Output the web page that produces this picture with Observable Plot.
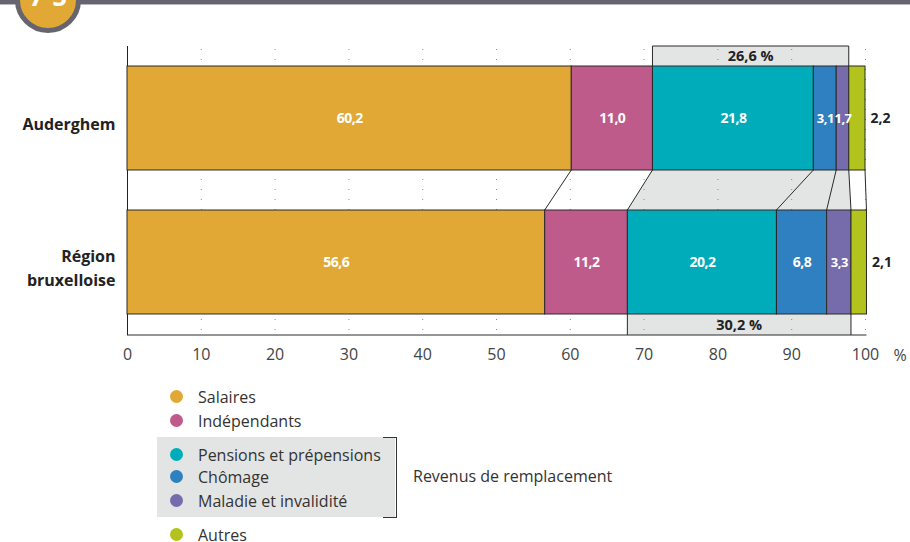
<!DOCTYPE html>
<html><head><meta charset="utf-8">
<script src="https://cdn.jsdelivr.net/npm/d3@7"></script>
<script src="https://cdn.jsdelivr.net/npm/@observablehq/plot@0.6"></script>
<style>
body{margin:0;background:#fff;font-family:"Open Sans",sans-serif;}
#wrap{position:relative;width:910px;height:542px;overflow:hidden;background:#fff;}
#topline{position:absolute;left:0;top:0;width:910px;height:4px;background:#66646f;border-bottom:1px solid #b9b8be;z-index:1;}
#badge{position:absolute;left:15px;top:-33px;width:66px;height:66px;box-sizing:border-box;border-radius:50%;background:#e2a836;border:5px solid #66646f;z-index:2;overflow:hidden;}
#badge span{position:absolute;left:0;width:100%;text-align:center;top:6px;font:bold 26px "Open Sans",sans-serif;color:#fff;}
#chart{position:absolute;left:0;top:0;}
.leg{position:absolute;left:0;height:22px;line-height:22px;font-size:16px;color:#333;}
.leg i{position:absolute;left:170px;top:4px;width:13px;height:13px;border-radius:50%;}
.leg span{position:absolute;left:198px;white-space:nowrap;}
#legbox{position:absolute;left:157px;top:437px;width:238px;height:80px;background:#e3e4e4;}
#bracket{position:absolute;left:383px;top:437px;width:13px;height:79px;border:1.3px solid #333;border-left:none;}
#repl{position:absolute;left:413px;top:465px;font-size:16px;color:#333;white-space:nowrap;}
</style></head><body>
<div id="wrap">
 <div id="topline"></div>
 <div id="badge"><span>7-5</span></div>
 <div id="chart"></div>
 <div id="legbox"></div>
 <div id="bracket"></div>
 <div id="repl">Revenus de remplacement</div>
</div>
<script>
const regions = ["Auderghem", "Région bruxelloise"];
const regionLabels = ["Auderghem", "Région\nbruxelloise"];
const categories = ["Salaires", "Indépendants", "Pensions et prépensions", "Chômage", "Maladie et invalidité", "Autres"];
const auderghemValues = [60.2, 11.0, 21.8, 3.1, 1.7, 2.2];
const bruxellesValues = [56.6, 11.2, 20.2, 6.8, 3.3, 2.1];
const colors = ["#e2a836", "#bf5b8a", "#00acb9", "#2f80c0", "#766cac", "#b2c31d"];
const replacementCats = ["Pensions et prépensions", "Chômage", "Maladie et invalidité"];
const replacementTotals = [26.6, 30.2];
const xTicks = [0, 10, 20, 30, 40, 50, 60, 70, 80, 90, 100];
const gridTicks = [10, 20, 30, 40, 50, 60, 70, 80, 90, 100];

const fmt = v => v.toFixed(1).replace(".", ",");
const valuesByRegion = [auderghemValues, bruxellesValues];
const data = [];
regions.forEach((r, i) => categories.forEach((c, j) => data.push({region: r, category: c, value: valuesByRegion[i][j]})));

const W = 910, H = 375;
const plot = Plot.plot({
  width: W, height: H,
  marginLeft: 127, marginRight: 45, marginTop: 46, marginBottom: 40,
  style: {fontFamily: "'Open Sans', sans-serif", background: "transparent", overflow: "visible"},
  x: {domain: [0, 100], label: null, axis: null},
  y: {domain: regions, range: [46, 335], paddingInner: 0.276, paddingOuter: 0.138, axis: null},
  color: {domain: categories, range: colors},
  marks: [
    Plot.axisX({ticks: xTicks, tickSize: 0, tickPadding: 13, fontSize: 16, fill: "#444", label: null}),
    Plot.ruleX(gridTicks, {stroke: "#8a8a8a", strokeWidth: 1, strokeDasharray: "1,9", strokeDashoffset: -3}),
    Plot.ruleX([0], {stroke: "#222", strokeWidth: 1}),
    Plot.barX(data, Plot.stackX({x: "value", y: "region", fill: "category", z: "category", order: categories, stroke: "#2a2a2a", strokeWidth: 1})),
    Plot.text(data, Plot.stackX({x: "value", y: "region", z: "category", order: categories,
      text: d => d.category === "Autres" ? "" : fmt(d.value),
      fontSize: d => d.value < 4 ? 13 : 14,
      fill: "#fff", fontWeight: "bold", className: "barlab"})),
    Plot.text(data, Plot.stackX2({x: "value", y: "region", z: "category", order: categories,
      text: d => d.category === "Autres" ? fmt(d.value) : "",
      fill: "#222", fontWeight: "bold", fontSize: 14, textAnchor: "start", dx: 5})),
    Plot.text(regions, {x: () => 0, y: d => d, text: (d, i) => regionLabels[i], textAnchor: "end", dx: -12, dy: 4,
      fontWeight: "bold", fontSize: 16, fill: "#222", lineHeight: 1.45})
  ]
});
document.getElementById("chart").appendChild(plot);
d3.select(plot).selectAll(".barlab text, g.barlab text").style("letter-spacing", "-0.5px");

const sx = plot.scale("x"), sy = plot.scale("y");
const X = v => sx.apply(v), bw = sy.bandwidth;
const yTop = sy.range[0], yBot = sy.range[1];
const cum = valuesByRegion.map(vals => { let s = 0; return vals.map(v => (s += v)); });
const start = vals => { let s = 0; return vals.map(v => { const a = s; s += v; return a; }); };
const starts = valuesByRegion.map(start);
const iFirst = categories.indexOf(replacementCats[0]);
const iLast = categories.indexOf(replacementCats[replacementCats.length - 1]);
const y0Top = sy.apply(regions[0]), y0Bot = y0Top + bw;
const y1Top = sy.apply(regions[1]), y1Bot = y1Top + bw;
const svg = d3.select(plot);
const under = svg.insert("g", ":first-child");
under.append("polygon")
  .attr("points", [[X(starts[0][iFirst]), y0Bot], [X(cum[0][iLast]), y0Bot], [X(cum[1][iLast]), y1Top], [X(starts[1][iFirst]), y1Top]].map(p => p.join(",")).join(" "))
  .attr("fill", "#e3e4e4");
under.append("rect").attr("x", X(starts[0][iFirst])).attr("y", yTop).attr("width", X(cum[0][iLast]) - X(starts[0][iFirst])).attr("height", y0Top - yTop).attr("fill", "#e3e4e4");
under.append("rect").attr("x", X(starts[1][iFirst])).attr("y", y1Bot).attr("width", X(cum[1][iLast]) - X(starts[1][iFirst])).attr("height", yBot - y1Bot).attr("fill", "#e3e4e4");

const over = svg.append("g").attr("fill", "none").attr("stroke", "#2a2a2a").attr("stroke-width", 1);
cum[0].forEach((c, j) => {
  over.append("line").attr("x1", X(c)).attr("y1", y0Bot).attr("x2", X(cum[1][j])).attr("y2", y1Top);
});
const xa = X(starts[0][iFirst]), xb = X(cum[0][iLast]);
over.append("path").attr("d", `M${xa},${y0Top}V${yTop}H${xb}V${y0Top}`);
const xc = X(starts[1][iFirst]), xd = X(cum[1][iLast]);
over.append("path").attr("d", `M${xc},${y1Bot}V${yBot}M${xd},${y1Bot}V${yBot}`);
over.append("line").attr("x1", X(0)).attr("x2", X(cum[1][categories.length - 1])).attr("y1", yBot).attr("y2", yBot);
const lab = svg.append("g").attr("font-weight", "bold").attr("font-size", 14.5).attr("fill", "#222").attr("text-anchor", "middle");
lab.append("text").attr("x", (xa + xb) / 2).attr("y", (yTop + y0Top) / 2).attr("dy", "0.35em").text(fmt(replacementTotals[0]) + " %");
lab.append("text").attr("x", (xc + xd) / 2).attr("y", (y1Bot + yBot) / 2).attr("dy", "0.35em").text(fmt(replacementTotals[1]) + " %");
svg.append("text").attr("x", 900).attr("y", yBot + 20).attr("dy", "0.35em").attr("text-anchor", "middle").attr("font-size", 16).attr("fill", "#444").text("%");

const wrap = document.getElementById("wrap");
const legendCenters = [397, 421, 455, 477, 501, 535];
categories.forEach((c, j) => {
  const d = document.createElement("div");
  d.className = "leg";
  d.style.top = (legendCenters[j] - 11) + "px";
  d.innerHTML = `<i style="background:${colors[j]}"></i><span>${c}</span>`;
  wrap.appendChild(d);
});
</script>
</body></html>
